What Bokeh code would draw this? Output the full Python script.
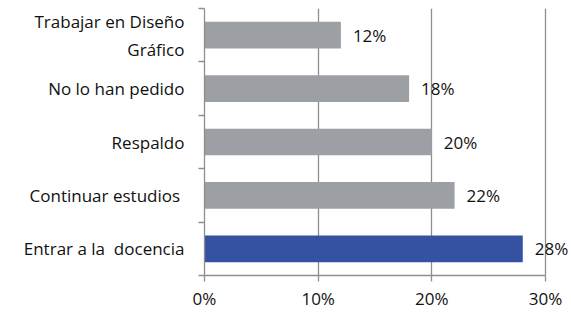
from bokeh.plotting import figure
from bokeh.models import FixedTicker, NumeralTickFormatter, ColumnDataSource, Range1d, LabelSet
from bokeh.embed import file_html
from bokeh.resources import INLINE
from bokeh.core.properties import value

# Data (bottom to top)
categories = ["Entrar a la\u00a0 docencia", "Continuar estudios\u00a0", "Respaldo",
              "No lo han pedido", "Trabajar en Diseño\nGráfico"]
values = [0.28, 0.22, 0.20, 0.18, 0.12]
value_labels = ["28%", "22%", "20%", "18%", "12%"]
bar_colors = ["#3650A2", "#9C9FA3", "#9C9FA3", "#9C9FA3", "#9C9FA3"]
x_ticks = [0, 0.1, 0.2, 0.3]

ys = list(range(len(categories)))
src = ColumnDataSource(dict(y=ys, v=values, lbl=value_labels, c=bar_colors))

FONT = "Open Sans"
FS = "17px"
GRAY = "#8E8E8E"
TXT = "#111111"

W, H = 571, 312
LEFT = 204
px_per_unit = (545 - LEFT) / x_ticks[-1]
x_end = x_ticks[-1] + (W - 545) / px_per_unit

p = figure(width=W, height=H, output_backend="svg", toolbar_location=None,
           x_range=Range1d(0, x_end), y_range=Range1d(-0.5, len(categories) - 0.5),
           min_border_left=LEFT, min_border_right=0, min_border_top=8, min_border_bottom=35)
p.outline_line_color = None
p.background_fill_color = "white"
p.border_fill_color = "white"

p.hbar(y="y", left=0, right="v", height=0.5, color="c", line_color=None, source=src)
p.add_layout(LabelSet(x="v", y="y", text="lbl", source=src, x_offset=12, text_baseline="middle",
                      text_font=value(FONT), text_font_size=value(FS), text_color=TXT))

# grid
p.ygrid.grid_line_color = None
p.xgrid.grid_line_color = GRAY
p.xgrid.grid_line_width = 1.3
p.xgrid.ticker = FixedTicker(ticks=x_ticks)

# x axis
xa = p.xaxis[0]
xa.bounds = (x_ticks[0], x_ticks[-1])
xa.ticker = FixedTicker(ticks=x_ticks)
xa.formatter = NumeralTickFormatter(format="0%")
xa.axis_line_color = GRAY
xa.axis_line_width = 1.3
xa.major_tick_line_color = GRAY
xa.major_tick_line_width = 1.3
xa.major_tick_out = 6
xa.major_tick_in = 0
xa.minor_tick_line_color = None
xa.major_label_standoff = 5
xa.major_label_text_font = FONT
xa.major_label_text_font_size = FS
xa.major_label_text_color = TXT

# y axis
ya = p.yaxis[0]
ya.ticker = FixedTicker(ticks=ys, minor_ticks=[i - 0.5 for i in range(len(categories) + 1)])
ya.major_label_overrides = {i: c for i, c in zip(ys, categories)}
ya.axis_line_color = GRAY
ya.axis_line_width = 1.3
ya.major_tick_line_color = None
ya.major_tick_out = 6
ya.major_tick_in = 0
ya.minor_tick_line_color = GRAY
ya.minor_tick_line_width = 1.3
ya.minor_tick_out = 6
ya.minor_tick_in = 0
ya.major_label_standoff = 14
ya.major_label_text_font = FONT
ya.major_label_text_font_size = FS
ya.major_label_text_color = TXT

open("out.html", "w").write(file_html(p, INLINE))
